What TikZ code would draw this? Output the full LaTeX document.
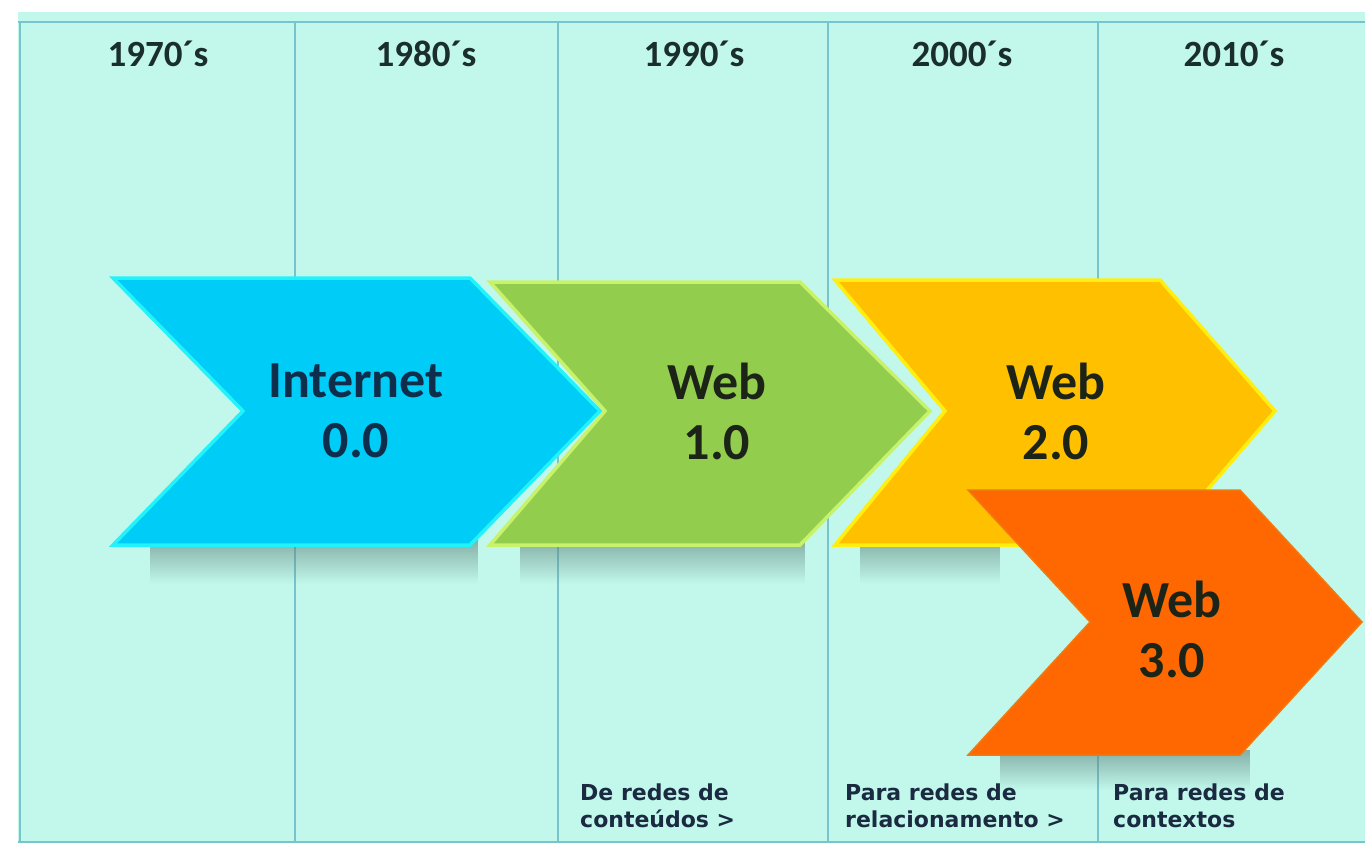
\documentclass[tikz,border=0pt]{standalone}
\usepackage{fontspec}
\newfontfamily\carl{Carlito}
\newfontfamily\dvs{DejaVu Sans}
\usetikzlibrary{fadings}
\definecolor{bg}{HTML}{C2F8EC}
\definecolor{gridc}{HTML}{78C4CC}
\definecolor{cyanf}{HTML}{00CCF8}
\definecolor{cyanb}{HTML}{22F2FA}
\definecolor{greenf}{HTML}{92CD4E}
\definecolor{greenb}{HTML}{C8F26A}
\definecolor{ambf}{HTML}{FFC000}
\definecolor{ambb}{HTML}{FFEE10}
\definecolor{orf}{HTML}{FF6800}
\definecolor{orb}{HTML}{F07A10}
\definecolor{navy}{HTML}{0E2E4C}
\definecolor{ink}{HTML}{1C2418}
\definecolor{yearc}{HTML}{1A2E2E}
\definecolor{botc}{HTML}{1A2A40}
\definecolor{shadc}{HTML}{5E8078}
\tikzset{
  gridline/.style={draw=gridc, line width=1.2pt},
  chev/.style={line width=3.5pt, line join=miter},
  shadowband/.style={fill=shadc, path fading=south, fill opacity=0.6, draw=none},
  biglabel/.style={font=\carl\bfseries\fontsize{52}{60}\selectfont, align=center, inner sep=0pt},
  yearlabel/.style={font=\carl\bfseries\fontsize{37}{40}\selectfont, text=yearc, inner sep=0pt},
  botlabel/.style={font=\dvs\bfseries\fontsize{22}{27}\selectfont, text=botc, align=left, anchor=north west, inner sep=0pt}
}
\begin{document}
\begin{tikzpicture}[x=1pt,y=-1pt]
\useasboundingbox (0,0) rectangle (1365,846);
\fill[white] (0,0) rectangle (1365,846);
\fill[bg] (18,12) rectangle (1365,842);
\draw[gridline] (18,22) -- (1365,22);
\draw[gridline] (18,842) -- (1365,842);
\draw[gridline] (20,22) -- (20,842);
\draw[gridline] (295,22) -- (295,842);
\draw[gridline] (558,22) -- (558,842);
\draw[gridline] (828,22) -- (828,842);
\draw[gridline] (1098,22) -- (1098,842);

% year labels
\node[yearlabel] (y70) at (158,54) {1970´s};
\node[yearlabel] (y80) at (426,54) {1980´s};
\node[yearlabel] (y90) at (694,54) {1990´s};
\node[yearlabel] (y00) at (962,54) {2000´s};
\node[yearlabel] (y10) at (1234,54) {2010´s};

% shadows
\fill[shadowband] (150,540) rectangle (478,584);
\fill[shadowband] (520,540) rectangle (805,584);
\fill[shadowband] (860,540) rectangle (1000,584);
\fill[shadowband] (1000,750) rectangle (1250,790);

% chevrons
\filldraw[chev, fill=greenf, draw=greenb] (490,282) -- (800,282) -- (930,411) -- (800,545) -- (490,545) -- (605,411) -- cycle;
\filldraw[chev, fill=cyanf, draw=cyanb] (113,278) -- (470,278) -- (600,411) -- (470,545) -- (113,545) -- (243,411) -- cycle;
\filldraw[chev, fill=ambf, draw=ambb] (835,280) -- (1160,280) -- (1275,411) -- (1160,545) -- (835,545) -- (945,411) -- cycle;
\filldraw[chev, line width=1.5pt, fill=orf, draw=orb] (968,490) -- (1240,490) -- (1362,622) -- (1240,755) -- (968,755) -- (1090,622) -- cycle;

\node[biglabel, text=navy] (inet) at (356,411) {Internet\\0.0};
\node[biglabel, text=ink] (w1) at (717,411) {Web\\1.0};
\node[biglabel, text=ink] (w2) at (1056,411) {Web\\2.0};
\node[biglabel, text=ink] (w3) at (1172,629) {Web\\3.0};

% bottom labels
\node[botlabel] (b1) at (580,784) {De redes de\\conteúdos >};
\node[botlabel] (b2) at (845,784) {Para redes de\\relacionamento >};
\node[botlabel] (b3) at (1113,784) {Para redes de\\contextos};
\end{tikzpicture}
\end{document}
